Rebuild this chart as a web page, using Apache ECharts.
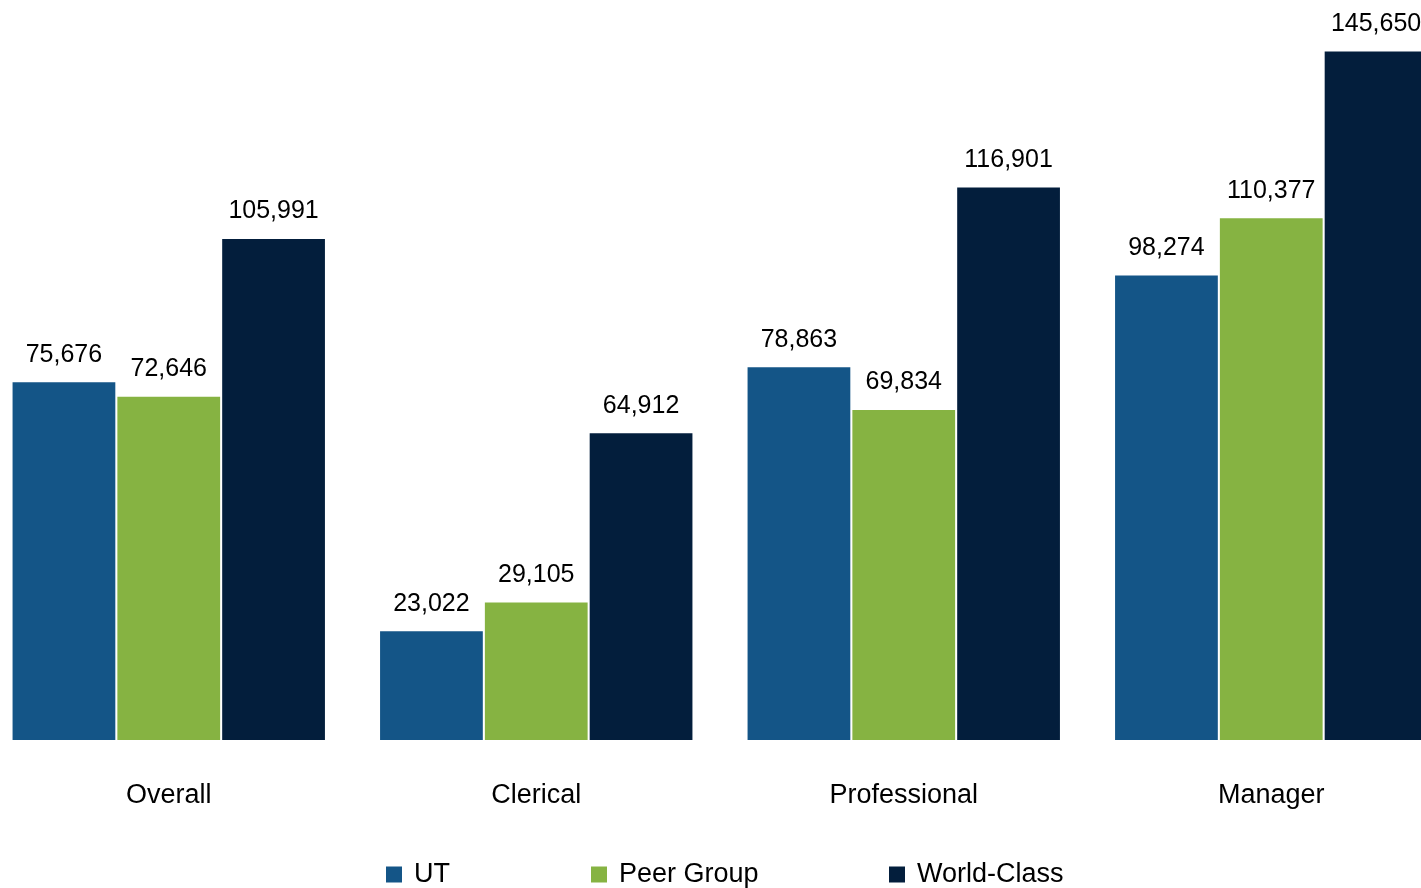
<!DOCTYPE html>
<html><head><meta charset="utf-8">
<script src="https://cdn.jsdelivr.net/npm/echarts@6/dist/echarts.min.js"></script>
<style>html,body{margin:0;padding:0;background:#fff}#c{width:1421px;height:888px}</style>
</head><body><div id="c"></div>
<script>
const categories = ['Overall', 'Clerical', 'Professional', 'Manager'];
const seriesNames = ['UT', 'Peer Group', 'World-Class'];
const utValues = [75676, 23022, 78863, 98274];
const peerValues = [72646, 29105, 69834, 110377];
const worldValues = [105991, 64912, 116901, 145650];
const colors = ['#145587', '#86B342', '#031E3C'];
const FONT = '"Liberation Sans Narrow", "Arial Narrow", "Liberation Sans", sans-serif';

const chart = echarts.init(document.getElementById('c'));
const label = {
  show: true, position: 'top', distance: 15,
  fontFamily: FONT, fontSize: 25, color: '#000',
  formatter: p => p.value.toLocaleString('en-US')
};
const dataSets = [utValues, peerValues, worldValues];
const legendLefts = [381, 586, 884];
chart.setOption({
  animation: false,
  grid: { left: -15, right: -34, top: 31, bottom: 148, containLabel: false, outerBoundsMode: 'none' },
  legend: seriesNames.map((n, i) => ({
    data: [n], left: legendLefts[i], top: 856, itemWidth: 16, itemHeight: 16,
    icon: 'rect', textStyle: { fontFamily: FONT, fontSize: 27, color: '#000', padding: [0, 0, 0, 7] }
  })),
  xAxis: {
    type: 'category', data: categories,
    axisLine: { show: false }, axisTick: { show: false },
    axisLabel: { fontFamily: FONT, fontSize: 27, color: '#000', margin: 42 }
  },
  yAxis: { type: 'value', min: 0, max: 150000, show: false, splitLine: { show: false } },
  series: seriesNames.map((n, i) => ({
    name: n, type: 'bar', data: dataSets[i], barGap: '2%', barCategoryGap: '15%',
    itemStyle: { color: colors[i] }, label: label
  }))
});
</script></body></html>
